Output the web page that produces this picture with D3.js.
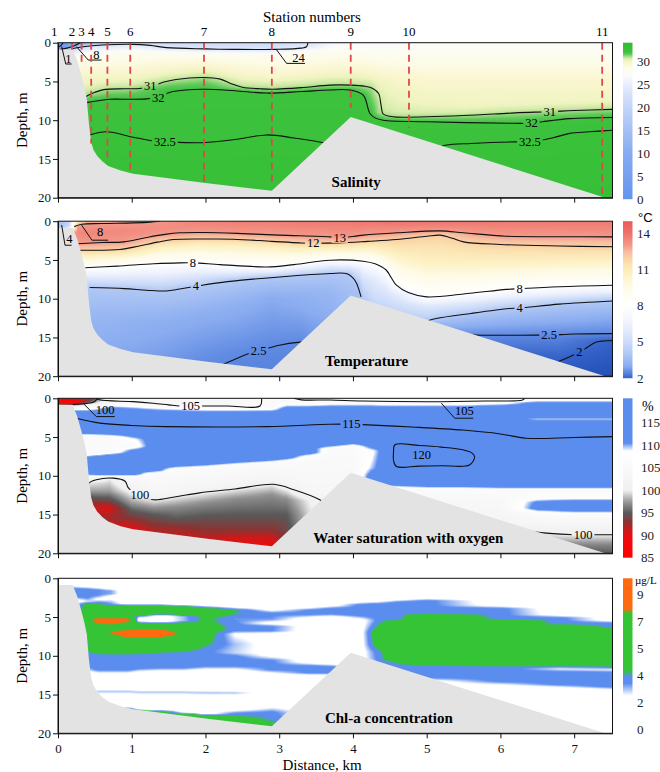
<!DOCTYPE html>
<html>
<head>
<meta charset="utf-8">
<script src="https://cdn.jsdelivr.net/npm/d3@7"></script>
<style>
  body { margin: 0; background: #fff; }
  svg text { font-family: "Liberation Serif", "Times New Roman", serif; }
</style>
</head>
<body>
<svg id="chart" width="660" height="772"></svg>
<script>
// ---------- shared data ----------
const distDomain = [0, 7.52];
const distTicks = [0, 1, 2, 3, 4, 5, 6, 7];
const depthTicks = [0, 5, 10, 15, 20];

const stationNames = ["1", "2", "3", "4", "5", "6", "7", "8", "9", "10", "11"];
const stationKm = [-0.05, 0.19, 0.32, 0.45, 0.67, 0.98, 1.98, 2.9, 3.97, 4.76, 7.38];
const stationCast = [0, 1.5, 2.5, 13, 15.6, 16.9, 18, 18, 8.4, 11, 19.8];

// bottom profile (km, depth m)
const bathymetry = [[0,0.87],[0.2,0.87],[0.26,2.3],[0.32,4.3],[0.36,5.8],[0.39,7.2],[0.42,10.5],[0.45,12.8],
  [0.48,13.8],[0.53,14.6],[0.6,15.3],[0.68,15.9],[0.85,16.5],[1.02,16.9],[2.0,18.1],[2.9,19.1],[3.97,9.6],[7.42,20]];

// ---------- salinity ----------
const salCols = [0, 0.1, 0.25, 0.45, 0.7, 1.0, 1.5, 2.0, 2.5, 2.9, 3.4, 3.7, 4.0, 4.15, 4.25, 4.35, 4.45, 4.6, 5.0, 5.5, 6.2, 7.0, 7.52];
const salProfiles = [
  [[0,0.5],[0.5,1.5],[0.9,8],[1.3,24],[2,28],[4,29.5],[6.3,30.5],[7,31],[7.8,32],[11.9,32.5],[20,33]],
  [[0,2],[0.5,6],[0.9,14],[1.3,24],[2,28],[4,29.5],[6.3,30.5],[7,31],[7.8,32],[11.9,32.5],[20,33]],
  [[0,8],[0.3,12],[0.7,21],[1.0,24],[1.7,28],[4,29.5],[6.3,30.5],[7,31],[7.8,32],[11.9,32.5],[20,33]],
  [[0,16],[0.3,20],[0.55,24],[1.5,28],[4,29.5],[5.8,30.5],[6.6,31],[7.6,32],[11.8,32.5],[20,33]],
  [[0,20],[0.3,22],[0.45,24],[1.4,28],[4,29.5],[5.4,30.5],[6.05,31],[7.3,32],[11.6,32.5],[20,33]],
  [[0,21],[0.22,24],[1.2,28],[3.8,29.5],[5.3,30.5],[5.9,31],[7.3,32],[12.2,32.5],[20,33]],
  [[0,21],[0.65,24],[1.4,28],[3.2,29.5],[4.4,30.5],[5.0,31],[6.2,32],[12.85,32.5],[20,33]],
  [[0,21],[0.8,24],[1.5,28],[3.0,29.5],[3.9,30.5],[4.5,31],[6.0,32],[12.9,32.5],[20,33]],
  [[0,21],[0.86,24],[1.6,28],[3.8,29.5],[5.1,30.5],[5.75,31],[6.3,32],[12.3,32.5],[20,33]],
  [[0,21],[0.86,24],[1.6,28],[4.2,29.5],[5.3,30.5],[6.0,31],[6.5,32],[11.9,32.5],[20,33]],
  [[0,23.5],[0.4,24],[1.3,28],[3.8,29.5],[5.0,30.5],[5.65,31],[6.25,32],[12.5,32.5],[20,33]],
  [[0,26],[1.2,28],[3.5,29.5],[4.8,30.5],[5.47,31],[6.1,32],[12.8,32.5],[20,33]],
  [[0,26.5],[1.3,28],[3.5,29.5],[4.8,30.5],[5.47,31],[6.1,32],[13,32.5],[20,33]],
  [[0,26.5],[1.4,28],[3.6,29.5],[4.9,30.5],[5.6,31],[6.8,32],[13,32.5],[20,33]],
  [[0,26.5],[1.5,28],[3.8,29.5],[5.0,30.5],[5.85,31],[9.2,32],[13,32.5],[20,33]],
  [[0,26.5],[1.5,28],[4,29.5],[5.4,30.2],[7.5,30.8],[9.0,31],[9.9,32],[13,32.5],[20,33]],
  [[0,26.5],[1.5,28],[4.2,29.5],[5.5,30.1],[8.5,30.6],[9.4,31],[10.0,32],[13.2,32.5],[20,33]],
  [[0,26.5],[1.5,28],[4.5,29.5],[6,30],[8.8,30.5],[9.6,31],[10.05,32],[13.3,32.5],[20,33]],
  [[0,27],[1.5,28],[5,29.5],[7.5,30],[8.9,30.5],[9.5,31],[10.2,32],[13.3,32.5],[20,33]],
  [[0,27],[1.5,28],[5,29.5],[7.8,30],[8.9,30.5],[9.4,31],[10.3,32],[13.0,32.5],[20,33]],
  [[0,27],[1.5,28],[5,29.5],[7.7,30],[8.5,30.5],[9.05,31],[10.4,32],[12.8,32.5],[20,33]],
  [[0,27],[1.5,28],[5,29.5],[7.5,30],[8.2,30.5],[8.75,31],[10.0,32],[11.7,32.5],[20,33]],
  [[0,27],[1.5,28],[5,29.5],[7.3,30],[8.0,30.5],[8.6,31],[9.65,32],[11.3,32.5],[20,33]]
];
const salStops = [0, 10, 20, 24, 27, 28.5, 29.5, 30.2, 30.7, 31, 31.5, 32, 34];
const salStopColors = ["#6494ee","#87abf1","#c3d5f8","#e0e8fb","#fbfcfa","#fdfce9","#faf6cf","#eef4c0","#cfeaa4","#a6dc8a","#5fca5a","#3ec23e","#30bd30"];
const salLines = [
  [[0,0.6],[0.04,0.35],[0.07,0]],
  [[0.03,0.85],[0.12,0.7],[0.22,0.4],[0.3,0]],
  [[0.2,0.75],[0.34,0.52],[0.6,0.3],[1.02,0.21],[1.25,0.35],[1.47,0.64],[2.0,0.8],[2.38,0.86],[2.96,0.86],[3.3,0.7],[3.37,0.52],[3.39,0]],
  [[0.37,7.0],[0.5,6.4],[0.62,6.05],[0.9,5.95],[1.11,5.9],[1.27,5.6],[1.45,5.05],[1.6,4.75],[1.97,4.5],[2.2,4.7],[2.35,5.3],[2.5,5.75],[2.75,5.95],[2.92,6.0],[3.3,5.8],[3.69,5.47],[3.96,5.47],[4.15,5.6],[4.27,5.9],[4.35,6.6],[4.38,8.0],[4.41,9.2],[4.5,9.5],[4.59,9.6],[5.5,9.4],[6.2,9.05],[6.67,8.9],[7.0,8.75],[7.52,8.6]],
  [[0.37,7.76],[0.7,7.3],[0.97,7.3],[1.2,7.25],[1.33,7.06],[1.56,6.3],[1.97,6.0],[2.4,6.2],[2.83,6.5],[3.3,6.3],[3.69,6.1],[3.96,6.1],[4.14,6.77],[4.23,9.14],[4.3,9.7],[4.41,10.0],[5.0,10.2],[6.17,10.4],[6.42,10.4],[6.57,10.2],[6.94,9.8],[7.52,9.65]],
  [[0.43,11.9],[0.66,11.5],[1.02,12.2],[1.34,12.75],[1.45,12.8],[1.97,12.9],[2.4,12.5],[2.83,11.9],[3.2,12.3],[3.6,12.9]],
  [[5.2,13.4],[5.27,13.2],[5.6,13.0],[6.21,12.8],[6.4,12.8],[6.7,12.3],[6.94,11.7],[7.2,11.5],[7.52,11.3]]
];
const salLabels = [["31",1.25,5.6],["32",1.36,7.1],["32.5",1.45,12.8],["31",6.67,8.9],["32",6.42,10.4],["32.5",6.4,12.8]];
const salCallouts = [
  ["1", [0.14,2.1], [[0.05,0.5],[0.105,2.75],[0.185,2.75]]],
  ["8", [0.52,1.55], [[0.25,0.5],[0.41,2.24],[0.59,2.24]]],
  ["24", [3.26,2.0], [[2.96,0.86],[3.1,2.67],[3.35,2.67]]]
];
const salBarTicks = [0, 5, 10, 15, 20, 25, 30];

// ---------- temperature ----------
const tempCols = [0, 0.15, 0.27, 0.4, 0.9, 1.4, 1.9, 2.4, 2.9, 3.3, 3.7, 3.95, 4.08, 4.14, 4.3, 4.45, 4.6, 5.0, 5.2, 5.6, 6.1, 6.8, 7.52];
const tempProfiles = [
  [[0,3.5],[0.9,3.6],[1.6,12],[2.5,13.2],[3.6,12],[4.6,10.5],[6,8],[7.2,6],[8.5,4],[12,3.4],[20,2.8]],
  [[0,4.5],[0.7,5],[1.4,12],[2.5,13.2],[3.6,12],[4.6,10.5],[6,8],[7.2,6],[8.5,4],[12,3.4],[20,2.8]],
  [[0,11],[0.6,13],[1.5,13.4],[2.9,13],[3.74,12],[4.6,10.5],[6,8],[7.2,6],[8.5,4],[12,3.4],[20,2.8]],
  [[0,12.6],[0.39,13],[1.5,13.5],[2.85,13],[3.72,12],[4.6,10.5],[6.0,8],[7.2,6],[8.56,4],[12,3.4],[20,2.8]],
  [[0,12.7],[0.2,13],[1.3,13.4],[2.67,13],[3.62,12],[4.4,10.5],[5.75,8],[7.2,6],[8.7,4],[13,3.2],[20,2.7]],
  [[0,13.1],[0.8,13.3],[1.75,13],[2.6,12],[3.5,10.5],[5.45,8],[7.2,6],[9.0,4],[13,3.1],[20,2.6]],
  [[0,13.6],[1.47,13],[2.3,12],[3.2,10.5],[5.38,8],[6.8,6],[8.5,4],[12,3.1],[18,2.55],[20,2.4]],
  [[0,13.7],[1.57,13],[2.32,12],[3.3,10.5],[5.7,8],[6.7,6],[7.6,4],[11,3.1],[17.1,2.5],[20,2.4]],
  [[0,13.7],[1.75,13],[2.6,12],[3.5,10.5],[5.9,8],[6.6,6],[7.2,4],[10,3.0],[16.1,2.5],[20,2.4]],
  [[0,13.8],[1.9,13],[2.82,12],[3.7,10.5],[5.5,8],[6.2,6],[7.0,4],[9.5,3.2],[15.6,2.5],[20,2.4]],
  [[0,13.8],[2.02,13],[2.82,12],[3.6,10.5],[5.03,8],[5.8,6],[6.75,4],[9,3.4],[13,3.0],[20,2.6]],
  [[0,13.8],[2.1,13],[2.8,12],[3.6,10.5],[5.1,8],[5.9,6],[6.8,4],[9.5,3.6],[20,3]],
  [[0,13.9],[1.95,13],[2.7,12],[3.5,10.5],[5.15,8],[6.2,6],[8.0,4],[10,3.6],[20,3]],
  [[0,13.9],[1.8,13],[2.6,12],[3.5,10.5],[5.16,8],[6.8,6],[9.0,4.6],[10.5,4],[20,3]],
  [[0,13.9],[1.7,13],[2.5,12],[3.6,10.5],[5.5,8],[7.5,6],[10,5],[12,4],[20,3]],
  [[0,14],[1.6,13],[2.45,12],[4.0,10.5],[6.3,8],[8.5,6],[10.5,5],[12.5,4],[20,3]],
  [[0,14],[1.5,13],[2.37,12],[4.6,10.5],[8.26,8],[9.5,6],[11,5],[12.8,4],[20,3]],
  [[0,14],[1.35,13],[1.95,12],[5.5,10.5],[9.76,8],[10.8,6],[11.8,5],[12.9,4],[14,3],[20,2.5]],
  [[0,14],[1.25,13],[1.8,12],[5.5,10.5],[9.7,8],[10.7,6],[11.5,5],[12.5,4],[13.7,3],[14.7,2.5],[20,2.2]],
  [[0,13.9],[1.5,13],[2.65,12],[5.5,10.5],[9.4,8],[10.4,6],[11.2,5],[11.9,4],[13.6,3],[14.7,2.5],[18,2.1],[20,2]],
  [[0,13.8],[1.94,13],[3.0,12],[5.5,10.5],[8.8,8],[10,6],[10.6,5],[11.3,4],[13.3,3],[14.7,2.5],[17,2.1],[20,1.9]],
  [[0,13.8],[2.0,13],[3.2,12],[5.3,10.5],[8.45,8],[9.6,6],[10.1,5],[10.7,4],[13,3],[14.6,2.5],[17.6,2.0],[20,1.8]],
  [[0,13.8],[2.02,13],[3.3,12],[5.2,10.5],[8.26,8],[9.3,6],[9.7,5],[10.3,4],[12.5,3],[14.5,2.5],[15.4,2.0],[20,1.7]]
];
const tempStops = [1.7, 2, 2.5, 3, 4, 5, 6.5, 8, 9.5, 10.5, 11.5, 12, 12.5, 13, 14, 15];
const tempStopColors = ["#2350b5","#3462c8","#5f8ae2","#8aacf0","#b0c8f5","#cddcf9","#eef2fd","#ffffff","#fefbe8","#fdf3c6","#fbe2b0","#f9cfa4","#f7bca0","#f39a8a","#ef716b","#ec5a58"];
const tempLines = [
  [[0.22,0.7],[0.32,0.39],[0.6,0.3],[1.02,0.22],[1.25,0.12],[1.38,0]],
  [[0.27,2.9],[0.6,2.75],[0.89,2.67],[1.2,2.1],[1.45,1.7],[1.65,1.5],[1.99,1.46],[2.5,1.6],[3.0,1.8],[3.69,2.02],[3.82,2.15],[4.14,1.8],[4.6,1.5],[5.18,1.25],[5.5,1.5],[6.08,1.94],[6.8,2.0],[7.52,2.02]],
  [[0.3,3.74],[0.84,3.66],[1.1,3.2],[1.35,2.7],[1.56,2.37],[2.0,2.3],[2.38,2.32],[2.9,2.6],[3.28,2.8],[3.46,2.85],[3.8,2.8],[4.2,2.6],[4.59,2.37],[5.0,1.95],[5.18,1.8],[5.35,2.2],[5.5,2.67],[6.0,3.0],[6.8,3.2],[7.52,3.3]],
  [[0.37,6.0],[0.8,5.8],[1.3,5.5],[1.65,5.38],[1.83,5.38],[2.2,5.6],[2.83,5.9],[3.2,5.6],[3.69,5.03],[4.14,5.16],[4.3,5.5],[4.45,6.3],[4.52,7.3],[4.59,8.26],[4.75,9.2],[5.0,9.76],[5.5,9.4],[6.08,8.8],[6.26,8.7],[6.8,8.45],[7.52,8.26]],
  [[0.43,8.56],[0.9,8.7],[1.2,8.9],[1.47,9.0],[1.65,8.75],[1.87,8.4],[2.3,7.8],[3.0,7.2],[3.69,6.75],[3.91,6.75],[4.0,7.3],[4.05,8.04],[4.11,9.76]],
  [[5.0,12.9],[5.13,12.56],[5.6,11.9],[6.12,11.27],[6.26,11.2],[6.8,10.7],[7.52,10.3]],
  [[2.15,18.6],[2.24,18.45],[2.58,17.1],[2.72,16.75],[3.0,16.0],[3.28,15.6],[3.4,15.55]],
  [[5.55,14.6],[5.67,14.7],[6.48,14.7],[6.66,14.7],[7.0,14.55],[7.52,14.5]],
  [[6.7,18.4],[6.76,18.2],[7.07,16.9],[7.3,15.6],[7.4,15.45],[7.52,15.4]]
];
const tempLabels = [["13",3.82,2.15],["12",3.46,2.85],["8",1.83,5.38],["8",6.26,8.7],["4",1.87,8.4],["4",6.26,11.2],["2.5",2.72,16.75],["2.5",6.66,14.7],["2",7.07,16.9]];
const tempCallouts = [
  ["4", [0.155,2.3], [[0.05,0.5],[0.095,3.1],[0.185,3.1]]],
  ["8", [0.57,1.45], [[0.32,0.5],[0.46,2.45],[0.68,2.45]]]
];
const tempBarTicks = [2, 5, 8, 11, 14];

// ---------- oxygen saturation ----------
const oxyCols = [0, 0.2, 0.4, 0.7, 1.0, 1.3, 1.6, 2.0, 2.4, 2.9, 3.1, 3.4, 3.7, 4.0, 4.25, 4.45, 5.0, 5.5, 6.0, 6.5, 7.0, 7.52];
const oxyProfiles = [
  [[0,86],[0.6,87],[0.9,100],[1.3,106],[1.8,113],[4.4,113],[4.9,106],[7.3,106],[7.6,113],[9.6,113],[10.2,106],[10.9,100],[12,97.5],[13,94],[14,91],[16,93],[20,92]],
  [[0,87],[0.7,88],[0.95,100],[1.3,106],[1.8,113],[4.4,113],[4.9,106],[7.3,106],[7.6,113],[9.6,113],[10.2,106],[10.9,100],[12,97.5],[13,94],[14,91],[16,93],[20,92]],
  [[0,90],[0.55,95],[0.75,101],[1.3,106],[1.8,113],[4.4,113],[4.9,106],[7.3,106],[7.6,113],[9.6,113],[10.2,106],[10.9,100],[12,97.5],[13,94],[14,91],[16,93],[20,92]],
  [[0,102],[0.8,106],[1.3,112],[4.5,113],[5.0,106],[7.0,106],[7.4,113],[9.8,113],[10.1,106],[10.3,100],[12,97.5],[13.2,94],[14.2,90.5],[15.5,92.5],[16.5,90.5],[20,90]],
  [[0,103],[0.5,105],[1.0,108],[1.5,112],[4.6,113],[5.3,108],[6.2,106],[6.6,110],[7.2,113],[9.8,113],[10.1,106],[11.0,103],[12.3,100],[13.5,97.5],[14.5,95],[15.5,93],[16.5,91],[17,90],[20,90]],
  [[0,104],[0.65,105],[1.2,108],[1.7,112],[9.3,113],[9.7,106],[12,104],[13.1,100],[14,97.5],[15,95],[16,93.5],[17,92],[20,91]],
  [[0,104],[0.9,105],[1.3,108],[1.8,112],[8.6,113],[9.2,106],[12,103],[12.7,100],[14,97],[15.5,95],[16.5,93],[17.5,91.5],[20,90]],
  [[0,104],[1.0,105],[1.4,108],[1.9,112],[8.4,113],[9.0,106],[11.5,103],[12.2,100],[13.5,97],[15.5,94.5],[17,93],[18,91.5],[20,90]],
  [[0,104],[1.0,105],[1.4,108],[1.9,112],[8.1,113],[8.7,106],[11,103],[11.7,100],[13,97],[15,95],[17,93],[18,91],[20,89]],
  [[0,106],[1.0,106],[1.4,108],[1.8,112],[7.8,113],[8.4,106],[10.5,103],[11.1,100],[12.5,97],[15,95],[17,93],[18.5,90],[20,88]],
  [[0,104],[0.3,106],[0.8,108],[1.3,112],[7.6,113],[8.2,106],[11,103],[11.8,100],[13,97],[15,95],[17,94],[20,92]],
  [[0,104],[0.25,106],[0.8,108],[1.3,112],[7.0,113],[7.6,106],[12,104],[13.2,100],[20,97]],
  [[0,104],[0.25,106],[0.7,108],[1.2,112],[6.0,113],[6.5,106],[12,104],[20,100]],
  [[0,104],[0.3,106],[0.7,108],[1.2,112],[5.7,113],[6.2,106],[12,104],[20,100]],
  [[0,104],[0.35,106],[0.7,108],[1.2,112],[6.0,113],[6.8,108],[9,109.5],[10,112],[11,113],[11.6,106],[20,104]],
  [[0,104],[0.4,106],[0.8,108],[1.2,112],[11.0,113],[11.6,106],[14,104],[20,103]],
  [[0,104],[0.44,106],[0.8,108],[1.2,112],[11.2,113],[11.8,106],[14,104],[17,103],[20,102]],
  [[0,104],[0.44,106],[0.8,108],[1.2,112],[11.2,113],[11.8,106],[14,104],[17,103],[20,102]],
  [[0,104],[0.35,106],[0.7,108],[1.0,112],[11.3,113],[11.9,106],[14,104],[17,102],[20,101]],
  [[0,107],[0.3,108],[0.6,112],[2.4,113],[2.7,109],[3.0,113],[11.3,113],[11.9,106],[12.8,107],[13.4,111],[14.2,112],[14.8,107],[16,104],[17.3,100],[19,97],[20,95]],
  [[0,107],[0.3,108],[0.6,112],[2.4,113],[2.7,109],[3.0,113],[11.3,113],[11.9,106],[12.8,107],[13.3,112],[14.4,112],[15,107],[16,104],[17.6,100],[19,96.5],[20,95]],
  [[0,107],[0.3,108],[0.6,112],[2.4,113],[2.7,109],[3.0,113],[11.3,113],[11.9,106],[12.8,107],[13.3,112],[14.4,112],[15,107],[16,104],[17.6,100],[19,96.5],[20,95]]
];
const oxyStops = [85, 89, 91, 93, 95, 97.5, 100, 108.8, 110.5, 121];
const oxyStopColors = ["#ff0000","#f00a0a","#d01818","#8a3434","#5a5a5a","#9a9a9a","#f0f0f0","#ffffff","#5b8def","#5b8def"];
const oxyLines = [
  [[0.2,0.8],[0.35,0.7],[0.47,0.55],[0.52,0.2],[0.53,0]],
  [[0.53,0],[0.56,0.2],[1.02,0.43],[1.29,0.64],[1.5,0.85],[1.65,0.99],[1.8,0.99],[2.3,1.0],[2.74,0.99],[2.76,0]],
  [[3.2,0],[3.3,0.2],[3.69,0.22],[4.13,0.35],[5.04,0.44],[5.8,0.35],[6.3,0.22],[6.33,0]],
  [[0.25,2.57],[0.57,3.2],[1.0,3.5],[1.47,3.65],[2.83,3.65],[3.69,3.35],[3.98,3.35],[4.13,3.4],[4.8,3.7],[5.49,4.1],[6.0,4.6],[6.35,5.15],[7.0,5.05],[7.52,4.95]],
  [[4.57,6.0],[4.9,6.1],[5.2,6.3],[5.49,6.65],[5.62,7.1],[5.65,7.6],[5.58,8.6],[5.2,8.7],[4.9,8.75],[4.59,8.8],[4.55,8.0],[4.55,7.0],[4.57,6.0]],
  [[0.41,11.6],[0.42,10.94],[0.52,10.5],[0.75,10.3],[0.91,10.7],[0.95,11.5],[1.0,12.0],[1.11,12.45],[1.29,13.1],[1.6,12.7],[1.92,12.2],[2.4,11.7],[2.92,11.1],[3.2,11.8],[3.55,13.1],[3.6,13.5]],
  [[6.35,17.0],[6.44,17.2],[7.0,17.6],[7.12,17.6],[7.52,17.6]]
];
const oxyLabels = [["105",1.8,0.99],["115",3.98,3.35],["120",4.93,7.38],["100",1.11,12.45],["100",7.12,17.6]];
const oxyCallouts = [
  ["100", [0.64,1.5], [[0.34,0.64],[0.52,2.36],[0.77,2.36]]],
  ["105", [5.51,1.64], [[5.2,0.64],[5.38,2.57],[5.63,2.57]]]
];
const oxyBarTicks = [85, 90, 95, 100, 105, 110, 115];

// ---------- chlorophyll-a ----------
const chlCols = [0, 0.2, 0.4, 0.55, 0.72, 0.95, 1.1, 1.4, 1.7, 2.0, 2.4, 2.9, 3.4, 3.7, 4.1, 4.35, 4.6, 5.0, 6.0, 6.8, 7.52];
const chlProfiles = [
  [[0,1],[20,1]],
  [[0,1],[0.9,2],[1.3,3.5],[2.4,3.5],[2.8,2],[20,2]],
  [[0,1],[1.0,2],[1.4,3.5],[2.5,3.5],[3.0,2.6],[3.4,5],[4.5,5.5],[5.2,6.5],[5.8,6],[8.0,5.5],[8.5,3.7],[9.0,4.5],[9.6,3.7],[11,3.6],[11.6,3.2],[12.2,2],[20,2]],
  [[0,1],[1.1,2],[1.5,3.4],[2.2,3.4],[2.7,2.2],[3.4,4.5],[4.8,5.5],[5.1,7.6],[5.3,8.9],[5.6,8.9],[5.85,7.6],[6.2,5.5],[9.4,5.5],[9.8,3.8],[11.8,3.6],[12.4,2],[14.2,2],[14.6,3.0],[15.1,2],[15.8,3.6],[16.3,3.6]],
  [[0,1],[1.3,2],[1.6,3.2],[2.0,3.2],[2.4,2],[3.4,3.5],[3.7,5],[5.0,5.5],[5.15,8.0],[5.3,9.0],[5.6,9.0],[5.85,8.0],[6.3,5.5],[6.7,6.5],[6.9,7.8],[7.2,7.8],[7.4,6.5],[9.5,5.5],[9.9,3.8],[11.8,3.6],[12.4,2],[14.2,2],[14.6,3.0],[15.1,2],[16.3,2]],
  [[0,1],[3.3,2],[3.6,5],[4.6,5.5],[5.0,5],[5.15,7.8],[5.4,8.4],[5.7,7.6],[6.2,5.5],[6.7,8.0],[6.9,9],[7.4,9],[7.6,8.0],[8,5.5],[9.5,5.5],[9.9,3.8],[11.8,3.6],[12.4,2],[14.2,2],[14.6,3.0],[15.1,2],[16.6,2],[16.9,5],[17.2,5]],
  [[0,1],[3.3,2],[3.6,5],[4.6,5.5],[4.9,3.5],[5.2,2],[5.5,2],[5.8,4.5],[6.3,5.5],[6.6,8],[6.85,9],[7.4,9],[7.6,8],[7.9,5.5],[9.4,5.5],[9.8,3.8],[11.6,3.6],[12.2,2],[14.3,2],[14.7,3.0],[15.2,2],[16.9,2],[17.1,5],[17.5,5]],
  [[0,1],[3.3,2],[3.6,5],[4.5,5.5],[4.85,2],[5.6,2],[5.9,5],[6.4,5.5],[6.65,8],[6.85,9],[7.35,9],[7.55,8],[7.9,5.5],[9.2,5.3],[9.7,3.8],[11.5,3.6],[12.1,2],[14.3,2],[14.7,3.0],[15.2,2],[17.0,2],[17.2,5],[17.6,5]],
  [[0,1],[3.4,2],[3.7,5],[4.6,5.5],[4.9,3],[5.5,3],[5.9,5],[6.6,5.5],[7.15,7.4],[7.6,5.5],[9.0,5.0],[9.6,3.8],[11.5,3.6],[12.1,2],[14.3,2],[14.7,3.0],[15.2,2],[17.3,2],[17.5,5],[17.9,5]],
  [[0,1],[3.5,2],[3.9,4.8],[4.6,5],[5.2,4.4],[5.8,4.5],[6.5,5],[7.5,4.8],[8.5,4.3],[9.3,3.6],[10,3.7],[11.3,3.6],[11.9,2],[14.3,2],[14.8,3.0],[15.2,2],[17.5,2],[17.7,5],[18.1,5]],
  [[0,1],[3.7,2],[4.1,4.2],[4.7,4.0],[5.2,3.3],[6.0,3.6],[6.7,3.6],[7.2,2.4],[8.5,3.0],[9.6,2.8],[10.1,3.6],[11.3,3.6],[11.9,2],[14.4,2],[14.8,3.0],[15.2,2],[16.9,2],[17.5,3.7],[18.0,4.5],[18.5,5]],
  [[0,1],[4.0,2],[4.5,3.5],[5.3,3.3],[5.8,2],[6.2,3.5],[6.8,3.4],[7.2,2],[10.0,2.2],[10.6,3.5],[11.8,3.5],[12.4,2],[16.4,2],[17.3,3.6],[18.4,4.0],[18.8,4.5],[19.1,5]],
  [[0,1],[3.7,2],[4.1,3.5],[4.7,3.4],[5.2,2],[10.8,2],[11.3,3.5],[12.2,3.5],[12.6,2],[20,2]],
  [[0,1],[3.5,2],[3.9,3.6],[4.6,3.6],[5.0,2],[11.0,2],[11.4,3.6],[12.2,3.6],[12.6,2],[20,2]],
  [[0,1],[3.0,2],[3.4,3.6],[4.8,3.6],[5.4,2],[8,2],[20,2]],
  [[0,1],[2.9,2],[3.3,3.6],[5.6,3.7],[6.2,4.3],[7.0,5.5],[8.5,5],[9.5,3.8],[10.5,3.6],[20,3]],
  [[0,1],[2.7,2],[3.1,3.6],[5.3,3.7],[5.6,5.5],[10.4,5.5],[10.8,4.2],[11.5,3.6],[20,3]],
  [[0,1],[2.5,2],[2.9,3.6],[4.5,3.7],[4.8,5.5],[10.9,5.5],[11.3,3.8],[12.8,3.6],[13.3,2],[20,2]],
  [[0,1],[3.5,2],[3.9,3.6],[5.2,3.7],[5.5,5.5],[11.0,5.5],[11.4,3.8],[13.3,3.6],[13.9,2],[20,2]],
  [[0,1],[4.7,2],[5.1,3.6],[5.9,3.7],[6.2,5.5],[11.1,5.5],[11.4,3.5],[11.7,2.6],[12.1,3.6],[13.7,3.6],[14.2,2],[20,2]],
  [[0,1],[5.4,2],[5.8,3.6],[6.3,3.7],[6.6,5.5],[11.2,5.5],[11.5,3.5],[11.8,2.6],[12.2,3.6],[14.0,3.6],[14.5,2],[20,2]]
];
const chlStops = [0, 2.5, 3.4, 3.9, 4.2, 7.6, 7.9, 10.2];
const chlStopColors = ["#ffffff","#ffffff","#5b8def","#5b8def","#35c435","#35c435","#ff6a10","#ff6a10"];
const chlBarTicks = [0, 2, 4, 5, 7, 9];
const chlBarSteps = [0, 2, 4, 5, 7, 9, 10.2];

// ---------- layout ----------
const svg = d3.select("#chart");
const serif = '"Liberation Serif","Times New Roman",serif';
const x = d3.scaleLinear().domain(distDomain).range([58, 612.5]);
const panelTops = [42.7, 221.2, 398.3, 578.3];
const panelH = 155;
const barX = 623, barW = 9.5;

const panels = [
  { title: "Salinity", titleKm: 3.71, cols: salCols, profiles: salProfiles, stops: salStops, stopColors: salStopColors,
    lines: salLines, labels: salLabels, callouts: salCallouts, barTicks: salBarTicks, barDomain: [0, 34], barBottom: 156.5, unit: null },
  { title: "Temperature", titleKm: 3.62, cols: tempCols, profiles: tempProfiles, stops: tempStops, stopColors: tempStopColors,
    lines: tempLines, labels: tempLabels, callouts: tempCallouts, barTicks: tempBarTicks, barDomain: [2, 15], barBottom: 157, unit: "°C" },
  { title: "Water saturation with oxygen", titleKm: 3.46, cols: oxyCols, profiles: oxyProfiles, stops: oxyStops, stopColors: oxyStopColors,
    lines: oxyLines, labels: oxyLabels, callouts: oxyCallouts, barTicks: oxyBarTicks, barDomain: [85, 120.5], barBottom: 159.4, unit: "%" },
  { title: "Chl-a concentration", titleKm: 3.62, cols: chlCols, profiles: chlProfiles, stops: chlStops, stopColors: chlStopColors,
    lines: [], labels: [], callouts: [], barTicks: chlBarTicks, barDomain: [0, 10.2], barSteps: chlBarSteps, unit: "µg/L" }
];

// linear interpolation inside one vertical profile
const profileAt = (p, d) => {
  if (d <= p[0][0]) return p[0][1];
  for (let k = 1; k < p.length; k++) {
    if (d <= p[k][0]) {
      const t = (d - p[k - 1][0]) / (p[k][0] - p[k - 1][0]);
      return p[k - 1][1] + t * (p[k][1] - p[k - 1][1]);
    }
  }
  return p[p.length - 1][1];
};

const drawField = (g, y, panel, color) => {
  const w = Math.ceil(x.range()[1] - x.range()[0]), h = panelH;
  const x0 = x.range()[0], y0 = y.range()[0];
  // sample every profile on the pixel rows
  const colVals = panel.profiles.map(p => d3.range(h).map(j => profileAt(p, y.invert(y0 + j + 0.5))));
  const lo = panel.stops[0], hi = panel.stops[panel.stops.length - 1], n = 800;
  const lut = d3.range(n).map(k => d3.rgb(color(lo + (hi - lo) * k / (n - 1))));
  const cv = document.createElement("canvas");
  cv.width = w; cv.height = h;
  const ctx = cv.getContext("2d");
  const img = ctx.createImageData(w, h);
  const cols = panel.cols;
  for (let i = 0; i < w; i++) {
    const km = x.invert(x0 + i + 0.5);
    let c = d3.bisectRight(cols, km) - 1;
    c = Math.max(0, Math.min(cols.length - 2, c));
    const t = Math.max(0, Math.min(1, (km - cols[c]) / (cols[c + 1] - cols[c])));
    const a = colVals[c], b = colVals[c + 1];
    for (let j = 0; j < h; j++) {
      const v = a[j] * (1 - t) + b[j] * t;
      let k = Math.round((v - lo) / (hi - lo) * (n - 1));
      k = Math.max(0, Math.min(n - 1, k));
      const col = lut[k], q = (j * w + i) * 4;
      img.data[q] = col.r; img.data[q + 1] = col.g; img.data[q + 2] = col.b; img.data[q + 3] = 255;
    }
  }
  ctx.putImageData(img, 0, 0);
  g.append("image")
    .attr("x", x0).attr("y", y0)
    .attr("width", w).attr("height", h)
    .attr("preserveAspectRatio", "none")
    .attr("href", cv.toDataURL());
};

// station header
svg.append("text")
  .attr("x", 312).attr("y", 22)
  .attr("text-anchor", "middle")
  .attr("font-size", 15)
  .text("Station numbers");

svg.append("g").selectAll("text")
  .data(stationNames)
  .enter()
  .append("text")
    .attr("x", (d, i) => x(stationKm[i]))
    .attr("y", 36)
    .attr("text-anchor", "middle")
    .attr("font-size", 13)
    .text(d => d);

panels.forEach((panel, pi) => {
  const top = panelTops[pi];
  const y = d3.scaleLinear().domain([0, 20]).range([top, top + panelH]);
  const color = d3.scaleLinear().domain(panel.stops).range(panel.stopColors).clamp(true);
  const g = svg.append("g");

  const clipId = "clip" + pi;
  svg.append("clipPath").attr("id", clipId)
    .append("rect")
      .attr("x", x.range()[0]).attr("y", top)
      .attr("width", x.range()[1] - x.range()[0]).attr("height", panelH);

  const plot = g.append("g").attr("clip-path", `url(#${clipId})`);
  drawField(plot, y, panel, color);

  // contour lines, with gaps under the labels
  const line = d3.line().x(p => x(p[0])).y(p => y(p[1])).curve(d3.curveCatmullRom.alpha(0.5));
  const lineClosed = d3.line().x(p => x(p[0])).y(p => y(p[1])).curve(d3.curveCatmullRomClosed.alpha(0.5));

  const maskId = "mask" + pi;
  const mask = svg.append("mask").attr("id", maskId)
    .attr("maskUnits", "userSpaceOnUse")
    .attr("x", 0).attr("y", 0).attr("width", 660).attr("height", 772);
  mask.append("rect").attr("x", 0).attr("y", 0).attr("width", 660).attr("height", 772).attr("fill", "#fff");

  plot.append("g")
    .attr("mask", `url(#${maskId})`)
    .selectAll("path")
      .data(panel.lines)
      .enter()
      .append("path")
        .attr("d", pts => {
          const first = pts[0], last = pts[pts.length - 1];
          return (first[0] === last[0] && first[1] === last[1]) ? lineClosed(pts.slice(0, -1)) : line(pts);
        })
        .attr("fill", "none")
        .attr("stroke", "#111")
        .attr("stroke-width", 1.1);

  // bottom
  const bottomPoly = [[0, 20]].concat(bathymetry);
  plot.append("path")
    .attr("d", d3.line().x(p => x(p[0])).y(p => y(p[1]))(bottomPoly) + "Z")
    .attr("fill", "#e3e3e3");

  // contour labels
  const labelG = plot.append("g");
  panel.labels.forEach(([t, km, d]) => {
    const txt = labelG.append("text")
      .attr("x", x(km)).attr("y", y(d))
      .attr("text-anchor", "middle")
      .attr("dominant-baseline", "central")
      .attr("font-size", 12.5)
      .text(t);
    const len = txt.node().getComputedTextLength();
    mask.append("rect")
      .attr("x", x(km) - len / 2 - 2).attr("y", y(d) - 5)
      .attr("width", len + 4).attr("height", 10)
      .attr("fill", "#000");
  });

  // call-outs with leader lines
  panel.callouts.forEach(([t, at, path]) => {
    plot.append("path")
      .attr("d", d3.line().x(p => x(p[0])).y(p => y(p[1]))(path))
      .attr("fill", "none")
      .attr("stroke", "#111")
      .attr("stroke-width", 1);
    plot.append("text")
      .attr("x", x(at[0])).attr("y", y(at[1]))
      .attr("text-anchor", "middle")
      .attr("dominant-baseline", "central")
      .attr("font-size", 12.5)
      .text(t);
  });

  // station casts (only on the first section)
  if (pi === 0) {
    const casts = stationKm.map((k, i) => [k, stationCast[i]]).filter(d => d[1] > 0);
    plot.append("g").selectAll("line")
      .data(casts)
      .enter()
      .append("line")
        .attr("x1", d => x(d[0])).attr("x2", d => x(d[0]))
        .attr("y1", y(0)).attr("y2", d => y(d[1]))
        .attr("stroke", "#e24646")
        .attr("stroke-width", 1.8)
        .attr("stroke-dasharray", "7,5");
  }

  // title
  plot.append("text")
    .attr("x", x(panel.titleKm)).attr("y", y(18.65))
    .attr("font-size", 15)
    .attr("font-weight", "bold")
    .text(panel.title);

  // axes
  const yAxis = g.append("g")
    .attr("transform", `translate(${x.range()[0]},0)`)
    .call(d3.axisLeft(y).tickValues(depthTicks).tickSize(5).tickPadding(2).tickSizeOuter(0));
  const xAxis = g.append("g")
    .attr("transform", `translate(0,${top + panelH})`)
    .call(d3.axisBottom(x).tickValues(distTicks).tickSize(5).tickPadding(5).tickSizeOuter(0)
      .tickFormat(pi === 3 ? d3.format("d") : () => ""));
  [yAxis, xAxis].forEach(a => {
    a.attr("font-family", serif).attr("font-size", 13);
    a.selectAll("text").attr("fill", "#111");
    a.selectAll("line,path").attr("stroke", "#111");
  });

  g.append("rect")
    .attr("x", x.range()[0]).attr("y", top)
    .attr("width", x.range()[1] - x.range()[0]).attr("height", panelH)
    .attr("fill", "none")
    .attr("stroke", "#111")
    .attr("stroke-width", 1);

  g.append("text")
    .attr("transform", `translate(27,${top + panelH / 2}) rotate(-90)`)
    .attr("text-anchor", "middle")
    .attr("font-size", 15)
    .text("Depth, m");

  // colour bar
  const barScale = panel.barSteps
    ? d3.scaleLinear().domain(panel.barSteps).range([151, 124, 97, 70, 43, 16, 0].map(o => top + o))
    : d3.scaleLinear().domain(panel.barDomain).range([top + panel.barBottom, top]);
  const yB = barScale(panel.barDomain[0]), yT = barScale(panel.barDomain[1]);
  const gradId = "grad" + pi;
  svg.append("linearGradient").attr("id", gradId)
    .attr("gradientUnits", "userSpaceOnUse")
    .attr("x1", 0).attr("x2", 0).attr("y1", yB).attr("y2", yT)
    .selectAll("stop")
      .data(d3.range(121).map(k => panel.barDomain[0] + (panel.barDomain[1] - panel.barDomain[0]) * k / 120))
      .enter()
      .append("stop")
        .attr("offset", v => (barScale(v) - yB) / (yT - yB))
        .attr("stop-color", v => color(v));
  g.append("rect")
    .attr("x", barX).attr("y", yT)
    .attr("width", barW).attr("height", yB - yT)
    .attr("fill", `url(#${gradId})`);
  g.append("g").selectAll("text")
    .data(panel.barTicks)
    .enter()
    .append("text")
      .attr("x", pi === 2 ? 641 : 637)
      .attr("y", v => barScale(v))
      .attr("dominant-baseline", "central")
      .attr("font-size", 13)
      .attr("fill", "#222")
      .text(v => v);
  if (panel.unit) {
    g.append("text")
      .attr("x", pi === 1 ? 638 : pi === 2 ? 642 : 635)
      .attr("y", pi === 1 ? top - 4 : pi === 2 ? top + 8 : top + 2)
      .attr("dominant-baseline", "central")
      .attr("font-size", pi === 3 ? 11 : pi === 1 ? 13 : 14)
      .attr("font-family", pi === 1 ? '"Liberation Sans",Arial,sans-serif' : serif)
      .style("font-family", pi === 1 ? '"Liberation Sans",Arial,sans-serif' : null)
      .text(panel.unit);
  }
});

svg.append("text")
  .attr("x", 322).attr("y", 770)
  .attr("text-anchor", "middle")
  .attr("font-size", 15)
  .text("Distance, km");
</script>
</body>
</html>
